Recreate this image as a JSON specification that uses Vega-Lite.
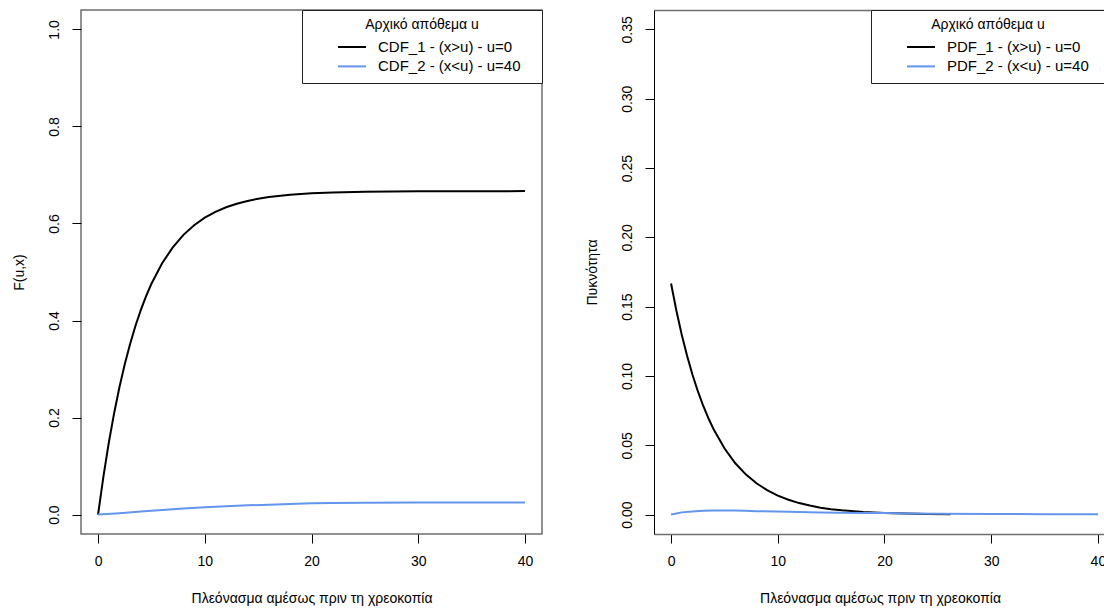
{
  "$schema": "https://vega.github.io/schema/vega-lite/v6.json",
  "background": "white",
  "padding": {"left": 11, "top": 8, "right": 0, "bottom": 0},
  "spacing": 41,
  "resolve": {"scale": {"color": "independent"}, "legend": {"color": "independent"}},
  "config": {
    "font": "Liberation Sans",
    "view": {"stroke": "#6e6e6e", "strokeWidth": 1.5},
    "axis": {
      "domain": false, "grid": false,
      "tickColor": "black", "tickSize": 9, "tickWidth": 1,
      "labelFont": "Liberation Sans", "labelFontSize": 14, "labelColor": "black", "labelPadding": 11,
      "titleFont": "Liberation Sans", "titleFontSize": 14, "titleFontWeight": "normal", "titleColor": "black"
    },
    "axisY": {"labelAngle": 270, "labelAlign": "center", "labelBaseline": "bottom", "titlePadding": 21},
    "axisX": {"titlePadding": 23},
    "legend": {
      "orient": "top-right", "offset": 0, "fillColor": "white", "strokeColor": "#222", "padding": 8,
      "titleAnchor": "middle", "titleFont": "Liberation Sans", "titleFontSize": 14, "titleFontWeight": "normal", "titleColor": "black", "titlePadding": 6,
      "labelFont": "Liberation Sans", "labelFontSize": 15, "labelColor": "black", "labelLimit": 400,
      "symbolType": "M-1.75,0H1.75", "symbolSize": 256, "symbolStrokeWidth": 2, "symbolOffset": 33, "labelOffset": 17, "rowPadding": 2.4
    }
  },
  "hconcat": [
    {
      "width": 461, "height": 524,
      "data": {"values": [
        {"x": 0, "y": 0, "series": "CDF_1 - (x>u) - u=0"},
        {"x": 0.5, "y": 0.0783, "series": "CDF_1 - (x>u) - u=0"},
        {"x": 1, "y": 0.1475, "series": "CDF_1 - (x>u) - u=0"},
        {"x": 1.5, "y": 0.2085, "series": "CDF_1 - (x>u) - u=0"},
        {"x": 2, "y": 0.2623, "series": "CDF_1 - (x>u) - u=0"},
        {"x": 2.5, "y": 0.3098, "series": "CDF_1 - (x>u) - u=0"},
        {"x": 3, "y": 0.3518, "series": "CDF_1 - (x>u) - u=0"},
        {"x": 3.5, "y": 0.3887, "series": "CDF_1 - (x>u) - u=0"},
        {"x": 4, "y": 0.4214, "series": "CDF_1 - (x>u) - u=0"},
        {"x": 4.5, "y": 0.4502, "series": "CDF_1 - (x>u) - u=0"},
        {"x": 5, "y": 0.4757, "series": "CDF_1 - (x>u) - u=0"},
        {"x": 6, "y": 0.5179, "series": "CDF_1 - (x>u) - u=0"},
        {"x": 7, "y": 0.5508, "series": "CDF_1 - (x>u) - u=0"},
        {"x": 8, "y": 0.5765, "series": "CDF_1 - (x>u) - u=0"},
        {"x": 9, "y": 0.5964, "series": "CDF_1 - (x>u) - u=0"},
        {"x": 10, "y": 0.6119, "series": "CDF_1 - (x>u) - u=0"},
        {"x": 11, "y": 0.6241, "series": "CDF_1 - (x>u) - u=0"},
        {"x": 12, "y": 0.6335, "series": "CDF_1 - (x>u) - u=0"},
        {"x": 13, "y": 0.6408, "series": "CDF_1 - (x>u) - u=0"},
        {"x": 14, "y": 0.6465, "series": "CDF_1 - (x>u) - u=0"},
        {"x": 15, "y": 0.651, "series": "CDF_1 - (x>u) - u=0"},
        {"x": 16, "y": 0.6545, "series": "CDF_1 - (x>u) - u=0"},
        {"x": 18, "y": 0.6593, "series": "CDF_1 - (x>u) - u=0"},
        {"x": 20, "y": 0.6622, "series": "CDF_1 - (x>u) - u=0"},
        {"x": 22, "y": 0.6639, "series": "CDF_1 - (x>u) - u=0"},
        {"x": 25, "y": 0.6654, "series": "CDF_1 - (x>u) - u=0"},
        {"x": 30, "y": 0.6663, "series": "CDF_1 - (x>u) - u=0"},
        {"x": 35, "y": 0.6666, "series": "CDF_1 - (x>u) - u=0"},
        {"x": 40, "y": 0.6667, "series": "CDF_1 - (x>u) - u=0"},
        {"x": 0, "y": 0, "series": "CDF_2 - (x<u) - u=40"},
        {"x": 2, "y": 0.003, "series": "CDF_2 - (x<u) - u=40"},
        {"x": 4, "y": 0.0065, "series": "CDF_2 - (x<u) - u=40"},
        {"x": 6, "y": 0.0095, "series": "CDF_2 - (x<u) - u=40"},
        {"x": 8, "y": 0.0125, "series": "CDF_2 - (x<u) - u=40"},
        {"x": 10, "y": 0.015, "series": "CDF_2 - (x<u) - u=40"},
        {"x": 12, "y": 0.0172, "series": "CDF_2 - (x<u) - u=40"},
        {"x": 14, "y": 0.019, "series": "CDF_2 - (x<u) - u=40"},
        {"x": 16, "y": 0.0205, "series": "CDF_2 - (x<u) - u=40"},
        {"x": 18, "y": 0.022, "series": "CDF_2 - (x<u) - u=40"},
        {"x": 20, "y": 0.0232, "series": "CDF_2 - (x<u) - u=40"},
        {"x": 22, "y": 0.024, "series": "CDF_2 - (x<u) - u=40"},
        {"x": 25, "y": 0.0245, "series": "CDF_2 - (x<u) - u=40"},
        {"x": 30, "y": 0.0247, "series": "CDF_2 - (x<u) - u=40"},
        {"x": 40, "y": 0.0248, "series": "CDF_2 - (x<u) - u=40"}
      ]},
      "mark": {"type": "line", "strokeWidth": 2},
      "encoding": {
        "x": {"field": "x", "type": "quantitative",
          "scale": {"domain": [-1.6, 41.6], "nice": false, "zero": false},
          "axis": {"values": [0, 10, 20, 30, 40], "format": "d", "title": "Πλεόνασμα αμέσως πριν τη χρεοκοπία"}},
        "y": {"field": "y", "type": "quantitative",
          "scale": {"domain": [-0.04, 1.04], "nice": false, "zero": false},
          "axis": {"values": [0, 0.2, 0.4, 0.6, 0.8, 1], "format": ".1f", "title": "F(u,x)"}},
        "color": {"field": "series", "type": "nominal",
          "scale": {"domain": ["CDF_1 - (x>u) - u=0", "CDF_2 - (x<u) - u=40"], "range": ["#000000", "#6495ED"]},
          "legend": {"title": "Αρχικό απόθεμα u", "labelExpr": "datum.label + '\u00a0\u00a0\u00a0\u200b'"}}
      }
    },
    {
      "width": 452, "height": 524,
      "view": {"stroke": null},
      "data": {"values": [
        {"x": 0, "y": 0.1667, "series": "PDF_1 - (x>u) - u=0"},
        {"x": 0.5, "y": 0.1471, "series": "PDF_1 - (x>u) - u=0"},
        {"x": 1, "y": 0.1298, "series": "PDF_1 - (x>u) - u=0"},
        {"x": 1.5, "y": 0.1146, "series": "PDF_1 - (x>u) - u=0"},
        {"x": 2, "y": 0.1011, "series": "PDF_1 - (x>u) - u=0"},
        {"x": 2.5, "y": 0.0892, "series": "PDF_1 - (x>u) - u=0"},
        {"x": 3, "y": 0.0787, "series": "PDF_1 - (x>u) - u=0"},
        {"x": 3.5, "y": 0.0695, "series": "PDF_1 - (x>u) - u=0"},
        {"x": 4, "y": 0.0613, "series": "PDF_1 - (x>u) - u=0"},
        {"x": 5, "y": 0.0478, "series": "PDF_1 - (x>u) - u=0"},
        {"x": 6, "y": 0.0372, "series": "PDF_1 - (x>u) - u=0"},
        {"x": 7, "y": 0.029, "series": "PDF_1 - (x>u) - u=0"},
        {"x": 8, "y": 0.0226, "series": "PDF_1 - (x>u) - u=0"},
        {"x": 9, "y": 0.0176, "series": "PDF_1 - (x>u) - u=0"},
        {"x": 10, "y": 0.0137, "series": "PDF_1 - (x>u) - u=0"},
        {"x": 11, "y": 0.0107, "series": "PDF_1 - (x>u) - u=0"},
        {"x": 12, "y": 0.0083, "series": "PDF_1 - (x>u) - u=0"},
        {"x": 13, "y": 0.0065, "series": "PDF_1 - (x>u) - u=0"},
        {"x": 14, "y": 0.005, "series": "PDF_1 - (x>u) - u=0"},
        {"x": 15, "y": 0.0039, "series": "PDF_1 - (x>u) - u=0"},
        {"x": 16, "y": 0.0031, "series": "PDF_1 - (x>u) - u=0"},
        {"x": 18, "y": 0.0019, "series": "PDF_1 - (x>u) - u=0"},
        {"x": 20, "y": 0.0011, "series": "PDF_1 - (x>u) - u=0"},
        {"x": 22, "y": 0.0007, "series": "PDF_1 - (x>u) - u=0"},
        {"x": 24, "y": 0.0004, "series": "PDF_1 - (x>u) - u=0"},
        {"x": 26.2, "y": 0.0003, "series": "PDF_1 - (x>u) - u=0"},
        {"x": 0, "y": 0, "series": "PDF_2 - (x<u) - u=40"},
        {"x": 0.5, "y": 0.0008, "series": "PDF_2 - (x<u) - u=40"},
        {"x": 1, "y": 0.0016, "series": "PDF_2 - (x<u) - u=40"},
        {"x": 2, "y": 0.0023, "series": "PDF_2 - (x<u) - u=40"},
        {"x": 3, "y": 0.0027, "series": "PDF_2 - (x<u) - u=40"},
        {"x": 4, "y": 0.0029, "series": "PDF_2 - (x<u) - u=40"},
        {"x": 5, "y": 0.0029, "series": "PDF_2 - (x<u) - u=40"},
        {"x": 6, "y": 0.0029, "series": "PDF_2 - (x<u) - u=40"},
        {"x": 7, "y": 0.0028, "series": "PDF_2 - (x<u) - u=40"},
        {"x": 8, "y": 0.0025, "series": "PDF_2 - (x<u) - u=40"},
        {"x": 10, "y": 0.0022, "series": "PDF_2 - (x<u) - u=40"},
        {"x": 12, "y": 0.0018, "series": "PDF_2 - (x<u) - u=40"},
        {"x": 14, "y": 0.0015, "series": "PDF_2 - (x<u) - u=40"},
        {"x": 16, "y": 0.0013, "series": "PDF_2 - (x<u) - u=40"},
        {"x": 18, "y": 0.0012, "series": "PDF_2 - (x<u) - u=40"},
        {"x": 20, "y": 0.0011, "series": "PDF_2 - (x<u) - u=40"},
        {"x": 22, "y": 0.0008, "series": "PDF_2 - (x<u) - u=40"},
        {"x": 25, "y": 0.0006, "series": "PDF_2 - (x<u) - u=40"},
        {"x": 30, "y": 0.0004, "series": "PDF_2 - (x<u) - u=40"},
        {"x": 35, "y": 0.0003, "series": "PDF_2 - (x<u) - u=40"},
        {"x": 40, "y": 0.0002, "series": "PDF_2 - (x<u) - u=40"}
      ]},
      "resolve": {"axis": {"x": "independent"}},
      "layer": [
        {
          "mark": {"type": "line", "strokeWidth": 2},
          "encoding": {
            "x": {"field": "x", "type": "quantitative",
              "scale": {"domain": [-1.6, 40.76], "nice": false, "zero": false},
              "axis": {"values": [0, 10, 20, 30, 40], "format": "d", "title": "Πλεόνασμα αμέσως πριν τη χρεοκοπία",
                "domain": true, "domainColor": "#6e6e6e", "domainWidth": 1.5}},
            "y": {"field": "y", "type": "quantitative",
              "scale": {"domain": [-0.014, 0.364], "nice": false, "zero": false},
              "axis": {"values": [0, 0.05, 0.1, 0.15, 0.2, 0.25, 0.3, 0.35], "format": ".2f", "title": "Πυκνότητα",
                "domain": true, "domainColor": "#000000", "domainWidth": 1}},
            "color": {"field": "series", "type": "nominal",
              "scale": {"domain": ["PDF_1 - (x>u) - u=0", "PDF_2 - (x<u) - u=40"], "range": ["#000000", "#6495ED"]},
              "legend": {"title": "Αρχικό απόθεμα u", "labelExpr": "datum.label + '\u00a0\u00a0\u200b'"}}
          }
        },
        {
          "mark": {"type": "line", "opacity": 0},
          "encoding": {
            "x": {"field": "x", "type": "quantitative",
              "axis": {"orient": "top", "labels": false, "ticks": false, "title": null,
                "domain": true, "domainColor": "#6e6e6e", "domainWidth": 1.5}},
            "y": {"field": "y", "type": "quantitative"},
            "detail": {"field": "series"}
          }
        }
      ]
    }
  ]
}
